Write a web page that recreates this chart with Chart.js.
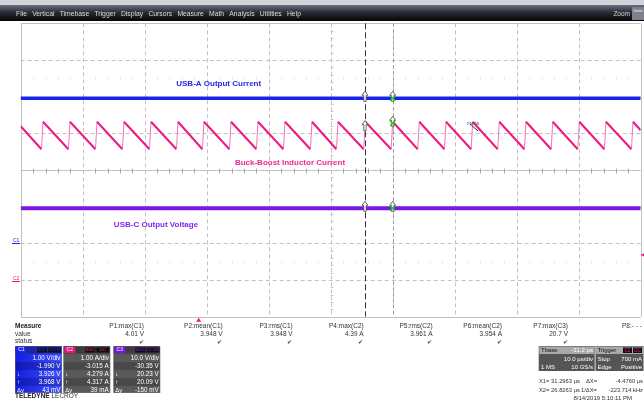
<!DOCTYPE html>
<html>
<head>
<meta charset="utf-8">
<title></title>
<style>
  body { margin: 0; background: #fff; }
  canvas { display: block; }
</style>
</head>
<body>
<canvas id="scope" width="644" height="402"></canvas>
<script src="https://cdn.jsdelivr.net/npm/chart.js"></script>
<script>
// timebase (us) and channel setups
const timePerDiv = 10;
const timeStart = -28.7;
const c1PerDiv = 1.00, c1Offset = -1.990;
const c2PerDiv = 1.00, c2Offset = -3.015;
const c3PerDiv = 10.0, c3Offset = -30.35;

// C1 - USB-A output (V)
const c1Time = [-28.7, 71.3];
const c1Value = [3.945, 3.945];

// C2 - buck-boost inductor current (A), sawtooth corners
const c2Time = [-28.70, -25.35, -25.10, -21.00, -20.75, -16.64, -16.39, -12.29, -12.04,
  -7.93, -7.68, -3.58, -3.33, 0.61, 0.86, 4.97, 5.22, 9.32, 9.57, 13.68, 13.93,
  18.03, 18.28, 22.23, 22.48, 26.63, 26.88, 31.05, 31.30, 35.34, 35.59, 39.65, 39.90,
  43.95, 44.20, 48.24, 48.49, 52.55, 52.80, 56.86, 57.11, 61.15, 61.40, 65.45, 65.70,
  69.81, 70.06, 71.30];
const c2Value = [4.21, 3.58, 4.33, 3.58, 4.33, 3.58, 4.33, 3.58, 4.33,
  3.58, 4.33, 3.58, 4.33, 3.58, 4.33, 3.58, 4.33, 3.58, 4.33, 3.58, 4.33,
  3.58, 4.33, 3.58, 4.33, 3.58, 4.33, 3.58, 4.33, 3.58, 4.33, 3.58, 4.33,
  3.58, 4.33, 3.58, 4.33, 3.58, 4.33, 3.58, 4.33, 3.58, 4.33, 3.58, 4.33,
  3.58, 4.33, 4.10];

// C3 - USB-C output voltage (V)
const c3Time = [-28.7, 71.3];
const c3Value = [19.9, 19.9];

const cursorX1 = 31.2963, cursorX2 = 26.8263;
const trigTime = 0, trigLevel = 0.7;

const menuItems = ['File', 'Vertical', 'Timebase', 'Trigger', 'Display', 'Cursors', 'Measure', 'Math', 'Analysis', 'Utilities', 'Help'];
const measNames = ['P1:max(C1)', 'P2:mean(C1)', 'P3:rms(C1)', 'P4:max(C2)', 'P5:rms(C2)', 'P6:mean(C2)', 'P7:max(C3)'];
const measValues = ['4.01 V', '3.948 V', '3.948 V', '4.39 A', '3.961 A', '3.954 A', '20.7 V'];
const c1Box = ['1.00 V/div', '-1.990 V', '3.926 V', '3.968 V', '43 mV'];
const c2Box = ['1.00 A/div', '-3.015 A', '4.279 A', '4.317 A', '39 mA'];
const c3Box = ['10.0 V/div', '-30.35 V', '20.23 V', '20.09 V', '-150 mV'];

const BLUE = 'rgb(24,36,238)', PINK = 'rgb(240,22,128)', PURPLE = 'rgb(120,24,230)';
const FONT = '"Liberation Sans", Arial, sans-serif';

function pts(ts, vs) { return ts.map((t, i) => ({ x: t, y: vs[i] })); }

function txt(ctx, s, x, y, size, color, align, bold) {
  ctx.font = (bold ? 'bold ' : '') + size + 'px ' + FONT;
  ctx.fillStyle = color;
  ctx.textAlign = align || 'left';
  ctx.textBaseline = 'middle';
  ctx.fillText(s, x, y);
}
function crisp(v) { return Math.round(v) + 0.5; }

function valueAt(ts, vs, t) {
  for (let i = 1; i < ts.length; i++) {
    if (t <= ts[i]) {
      const f = (t - ts[i - 1]) / (ts[i] - ts[i - 1]);
      return vs[i - 1] + f * (vs[i] - vs[i - 1]);
    }
  }
  return vs[vs.length - 1];
}

const scopePlugin = {
  id: 'scope',
  beforeDraw(chart) {
    const ctx = chart.ctx;
    ctx.save();
    ctx.fillStyle = '#fff';
    ctx.fillRect(0, 0, chart.width, chart.height);
    ctx.restore();
  },
  beforeDatasetsDraw(chart) {
    const ctx = chart.ctx, a = chart.chartArea;
    const xs = chart.scales.x, ys = chart.scales.y1;
    const c1c = -c1Offset;
    ctx.save();
    ctx.lineWidth = 1;
    // vertical divisions
    for (let k = 0; k <= 10; k++) {
      const px = crisp(xs.getPixelForValue(timeStart + k * timePerDiv));
      ctx.strokeStyle = '#c2c2c2';
      ctx.setLineDash(k === 0 || k === 10 ? [] : [4, 3]);
      ctx.beginPath(); ctx.moveTo(px, a.top); ctx.lineTo(px, a.bottom); ctx.stroke();
    }
    // horizontal divisions
    for (let k = -4; k <= 4; k++) {
      const py = crisp(ys.getPixelForValue(c1c + k * c1PerDiv));
      ctx.strokeStyle = '#c2c2c2';
      ctx.setLineDash(k === 0 || Math.abs(k) === 4 ? [] : [4, 3]);
      ctx.beginPath(); ctx.moveTo(a.left, py); ctx.lineTo(a.right, py); ctx.stroke();
    }
    ctx.setLineDash([]);
    // minor ticks on the centre lines and the dot rows at +-2.5 div
    const cy = crisp(ys.getPixelForValue(c1c));
    const cx = crisp(xs.getPixelForValue(timeStart + 5 * timePerDiv));
    ctx.strokeStyle = '#a8a8a8';
    ctx.fillStyle = '#c4c4c4';
    for (let m = 1; m < 50; m++) {
      if (m % 5 === 0) continue;
      const px = crisp(xs.getPixelForValue(timeStart + m * timePerDiv / 5));
      ctx.beginPath(); ctx.moveTo(px, cy - 2); ctx.lineTo(px, cy + 3); ctx.stroke();
      [2.5, -2.5].forEach(d => {
        const py = Math.round(ys.getPixelForValue(c1c + d * c1PerDiv));
        ctx.fillRect(px - 0.5, py, 1, 1);
      });
    }
    ctx.strokeStyle = '#c8c8c8';
    for (let m = -19; m < 20; m++) {
      if (m % 5 === 0) continue;
      const py = crisp(ys.getPixelForValue(c1c + m * c1PerDiv / 5));
      ctx.beginPath(); ctx.moveTo(cx - 1, py); ctx.lineTo(cx + 2, py); ctx.stroke();
    }
    // cursor X2 (dashed black)
    const x2 = crisp(xs.getPixelForValue(cursorX2));
    ctx.strokeStyle = '#333';
    ctx.setLineDash([6, 3]);
    ctx.beginPath(); ctx.moveTo(x2, a.top); ctx.lineTo(x2, a.bottom); ctx.stroke();
    const x1 = crisp(xs.getPixelForValue(cursorX1));
    ctx.strokeStyle = '#9a9a9a';
    ctx.setLineDash([3, 3]);
    ctx.beginPath(); ctx.moveTo(x1, a.top); ctx.lineTo(x1, a.bottom); ctx.stroke();
    ctx.restore();
  },
  afterDatasetsDraw(chart) {
    const ctx = chart.ctx, a = chart.chartArea, xs = chart.scales.x;
    ctx.save();
    // trace captions
    txt(ctx, 'USB-A Output Current', 218.7, 84, 8, 'rgb(40,40,230)', 'center', true);
    txt(ctx, 'Buck-Boost Inductor Current', 290, 162.7, 8, 'rgb(240,40,140)', 'center', true);
    txt(ctx, 'USB-C Output Voltage', 156, 225, 8, 'rgb(130,40,240)', 'center', true);
    txt(ctx, 'meas', 467, 124, 5, '#555', 'left');
    ctx.strokeStyle = '#333'; ctx.lineWidth = 1;
    ctx.beginPath(); ctx.moveTo(470, 124); ctx.lineTo(478, 131); ctx.stroke();

    // cursor markers on each trace
    const marks = [
      [chart.scales.y1, c1Time, c1Value],
      [chart.scales.y2, c2Time, c2Value],
      [chart.scales.y3, c3Time, c3Value]
    ];
    marks.forEach(([ys, ts, vs]) => {
      [cursorX2, cursorX1].forEach((ct, j) => {
        const px = xs.getPixelForValue(ct);
        const py = ys.getPixelForValue(valueAt(ts, vs, j ? ct - 0.01 : ct));
        ctx.fillStyle = '#fff'; ctx.strokeStyle = '#444'; ctx.lineWidth = 0.8;
        ctx.beginPath();
        ctx.moveTo(px, py - 7); ctx.lineTo(px + 3, py - 3); ctx.lineTo(px + 1.2, py - 3);
        ctx.lineTo(px + 1.2, py + 3); ctx.lineTo(px - 1.2, py + 3); ctx.lineTo(px - 1.2, py - 3);
        ctx.lineTo(px - 3, py - 3); ctx.closePath(); ctx.fill(); ctx.stroke();
        if (j) {
          ctx.strokeStyle = 'rgb(40,200,40)'; ctx.lineWidth = 1.5;
          ctx.beginPath();
          ctx.moveTo(px - 2.5, py - 2.5); ctx.lineTo(px + 2.5, py + 2.5);
          ctx.moveTo(px + 2.5, py - 2.5); ctx.lineTo(px - 2.5, py + 2.5); ctx.stroke();
        }
      });
    });

    // ground markers on the left
    const g1 = chart.scales.y1.getPixelForValue(0), g2 = chart.scales.y2.getPixelForValue(0);
    txt(ctx, 'C1', 13, g1 - 2, 5, BLUE, 'left');
    txt(ctx, 'C2', 13, g2 - 2, 5, PINK, 'left');
    ctx.fillStyle = BLUE; ctx.fillRect(12, Math.round(g1), 8, 1);
    ctx.fillStyle = PINK; ctx.fillRect(12, Math.round(g2), 8, 1);
    // trigger level marker at right, trigger time marker below
    const tl = chart.scales.y2.getPixelForValue(trigLevel);
    ctx.fillStyle = PINK;
    ctx.beginPath(); ctx.moveTo(a.right, tl); ctx.lineTo(a.right + 4, tl - 2); ctx.lineTo(a.right + 4, tl + 2); ctx.fill();
    const tx = xs.getPixelForValue(trigTime);
    ctx.beginPath(); ctx.moveTo(tx, a.bottom + 1); ctx.lineTo(tx + 2.5, a.bottom + 5); ctx.lineTo(tx - 2.5, a.bottom + 5); ctx.fill();
    ctx.restore();
  },
  afterDraw(chart) {
    const ctx = chart.ctx;
    ctx.save();
    // menu bar
    ctx.fillStyle = '#cfd3da'; ctx.fillRect(0, 0, 644, 5);
    const g = ctx.createLinearGradient(0, 5, 0, 21);
    g.addColorStop(0, '#6a7080'); g.addColorStop(0.45, '#2a2d34'); g.addColorStop(1, '#050505');
    ctx.fillStyle = g; ctx.fillRect(0, 5, 644, 16);
    let mx = 16;
    ctx.font = '6.8px ' + FONT;
    menuItems.forEach(s => {
      txt(ctx, s, mx, 14, 6.8, '#dcdcdc', 'left');
      mx += ctx.measureText(s).width + 5.2;
    });
    txt(ctx, 'Zoom', 630, 14, 6.5, '#cfcfcf', 'right');
    ctx.fillStyle = '#7c818c'; ctx.fillRect(632, 7, 12, 13);
    txt(ctx, 'Undo', 638, 11, 4, '#eee', 'center');

    // measurement table
    txt(ctx, 'Measure', 15, 326, 6.5, '#222', 'left', true);
    txt(ctx, 'value', 15, 334, 6.5, '#333', 'left');
    txt(ctx, 'status', 15, 341.5, 6.5, '#333', 'left');
    const colRight = [144, 222.7, 292.7, 363.7, 432.7, 502, 568];
    measNames.forEach((s, i) => {
      txt(ctx, s, colRight[i], 326, 6.5, '#333', 'right');
      txt(ctx, measValues[i], colRight[i], 334, 6.5, '#333', 'right');
      txt(ctx, '\u2714', colRight[i] - 3, 342, 5.5, '#333', 'center');
    });
    txt(ctx, 'P8:- - -', 622, 326, 6.5, '#333', 'left');

    // channel descriptor boxes
    drawChan(ctx, 15, 'C1', BLUE, ['BWL', 'DC1M'], c1Box, true);
    drawChan(ctx, 63.3, 'C2', PINK, ['BWL', 'DC'], c2Box, false);
    drawChan(ctx, 113.3, 'C3', PURPLE, ['BWL', 'DC1M'], c3Box, false);

    // timebase + trigger boxes
    ctx.fillStyle = '#555'; ctx.fillRect(538.7, 346, 56, 25);
    ctx.fillStyle = '#a9a9a9'; ctx.fillRect(539.2, 346.5, 55, 7.5);
    txt(ctx, 'Tbase', 541, 350.3, 6, '#111', 'left');
    txt(ctx, '-31.2 \u00b5s', 593, 350.3, 6, '#fff', 'right');
    txt(ctx, '10.0 \u00b5s/div', 593, 359, 6, '#fff', 'right');
    txt(ctx, '1 MS', 541, 367, 6, '#fff', 'left');
    txt(ctx, '10 GS/s', 593, 367, 6, '#fff', 'right');
    ctx.fillStyle = '#555'; ctx.fillRect(595.5, 346, 48, 25);
    ctx.fillStyle = '#a9a9a9'; ctx.fillRect(596, 346.5, 47, 7.5);
    txt(ctx, 'Trigger', 597.5, 350.3, 6, '#111', 'left');
    ctx.fillStyle = '#111'; ctx.fillRect(623, 347.5, 9, 5.5); ctx.fillRect(633, 347.5, 9, 5.5);
    txt(ctx, 'C2', 627.5, 350.3, 4.5, PINK, 'center');
    txt(ctx, 'DC', 637.5, 350.3, 4.5, PINK, 'center');
    txt(ctx, 'Stop', 597.5, 359, 6, '#fff', 'left');
    txt(ctx, '700 mA', 642, 359, 6, '#fff', 'right');
    txt(ctx, 'Edge', 597.5, 367, 6, '#fff', 'left');
    txt(ctx, 'Positive', 642, 367, 6, '#fff', 'right');

    txt(ctx, 'X1= 31.2963 \u00b5s', 539, 381.5, 5.8, '#333', 'left');
    txt(ctx, '\u0394X=', 586, 381.5, 5.8, '#333', 'left');
    txt(ctx, '-4.4760 \u00b5s', 643, 381.5, 5.8, '#333', 'right');
    txt(ctx, 'X2= 26.8263 \u00b5s', 539, 390, 5.8, '#333', 'left');
    txt(ctx, '1/\u0394X=', 581, 390, 5.8, '#333', 'left');
    txt(ctx, '-223.714 kHz', 643, 390, 5.8, '#333', 'right');
    txt(ctx, '8/14/2019 5:10:11 PM', 632, 398, 6, '#333', 'right');

    txt(ctx, 'TELEDYNE', 15, 396.5, 6.5, '#222', 'left', true);
    ctx.font = 'bold 6.5px ' + FONT;
    const tw = ctx.measureText('TELEDYNE ').width;
    txt(ctx, 'LECROY', 15 + tw, 396.5, 6.5, '#333', 'left');
    ctx.restore();
  }
};

function drawChan(ctx, x, name, col, chips, rows, filled) {
  const w = 47, top = 346, rowH = 8;
  ctx.fillStyle = '#7a7a7a'; ctx.fillRect(x, top, w, 47);
  if (filled) {
    const g = ctx.createLinearGradient(x, 0, x + w, 0);
    g.addColorStop(0, 'rgb(20,30,220)'); g.addColorStop(1, 'rgb(60,80,250)');
    ctx.fillStyle = g; ctx.fillRect(x + 0.5, top + 0.5, w - 1, 46);
  } else {
    ctx.fillStyle = '#595959'; ctx.fillRect(x + 0.5, top + 0.5, w - 1, 46);
  }
  // header
  ctx.fillStyle = filled ? 'rgb(30,40,150)' : '#3c3c3c'; ctx.fillRect(x + 0.5, top + 0.5, w - 1, 7);
  ctx.fillStyle = col; ctx.fillRect(x + 1, top + 1, 11, 6);
  txt(ctx, name, x + 6.5, top + 4, 5, '#fff', 'center');
  ctx.fillStyle = '#111'; ctx.fillRect(x + 22, top + 1.5, 10, 5); ctx.fillRect(x + 33, top + 1.5, 13, 5);
  txt(ctx, chips[0], x + 27, top + 4, 4.3, col, 'center');
  txt(ctx, chips[1], x + 39.5, top + 4, 4.3, col, 'center');
  // rows
  const labels = ['', '', '\u2193', '\u2191', '\u0394y'];
  rows.forEach((s, i) => {
    const ry = top + 8 + i * rowH;
    if (i % 2 === 1) {
      ctx.fillStyle = filled ? 'rgba(0,0,80,0.25)' : 'rgba(0,0,0,0.18)';
      ctx.fillRect(x + 0.5, ry, w - 1, rowH);
    }
    txt(ctx, s, x + w - 1.5, ry + 4.3, 6.3, '#fff', 'right');
    if (labels[i]) txt(ctx, labels[i], x + 2, ry + 4.3, 6, '#fff', 'left');
  });
}

const config = {
  type: 'line',
  data: {
    datasets: [
      { data: pts(c1Time, c1Value), yAxisID: 'y1', borderColor: BLUE, borderWidth: 3.5 },
      {
        data: pts(c2Time, c2Value), yAxisID: 'y2', borderColor: PINK, borderWidth: 2,
        segment: {
          borderColor: c => c.p1.parsed.y > c.p0.parsed.y ? 'rgba(245,90,170,0.85)' : undefined,
          borderWidth: c => c.p1.parsed.y > c.p0.parsed.y ? 1 : undefined
        }
      },
      { data: pts(c3Time, c3Value), yAxisID: 'y3', borderColor: PURPLE, borderWidth: 4 }
    ]
  },
  options: {
    responsive: false,
    animation: false,
    devicePixelRatio: 1,
    layout: { padding: { left: 20.7, right: 3.3, top: 23.3, bottom: 85.3 } },
    elements: { point: { radius: 0 }, line: { tension: 0 } },
    plugins: { legend: { display: false }, tooltip: { enabled: false } },
    scales: {
      x: { type: 'linear', min: timeStart, max: timeStart + 10 * timePerDiv, display: false },
      y1: { min: -c1Offset - 4 * c1PerDiv, max: -c1Offset + 4 * c1PerDiv, display: false },
      y2: { min: -c2Offset - 4 * c2PerDiv, max: -c2Offset + 4 * c2PerDiv, display: false },
      y3: { min: -c3Offset - 4 * c3PerDiv, max: -c3Offset + 4 * c3PerDiv, display: false }
    }
  },
  plugins: [scopePlugin]
};

const scopeChart = new Chart(document.getElementById('scope'), config);
</script>
</body>
</html>
